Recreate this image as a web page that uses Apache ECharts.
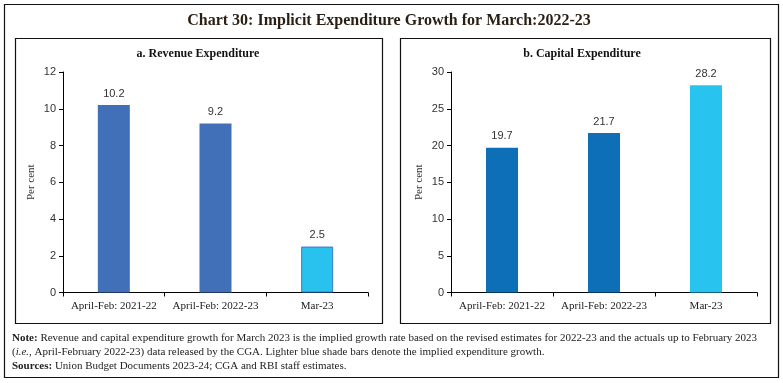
<!DOCTYPE html>
<html><head><meta charset="utf-8">
<script src="https://cdn.jsdelivr.net/npm/echarts@6/dist/echarts.min.js"></script>
<style>html,body{margin:0;padding:0;background:#fff}#c{width:783px;height:383px}</style>
</head><body><div id="c"></div>
<script>
const categories = ['April-Feb: 2021-22', 'April-Feb: 2022-23', 'Mar-23'];
const revenueValues = [10.2, 9.2, 2.5];
const capitalValues = [19.7, 21.7, 28.2];
const revenueTicks = {min: 0, max: 12, interval: 2};
const capitalTicks = {min: 0, max: 30, interval: 5};

const SERIF = '"Liberation Serif", "DejaVu Serif", serif';
const SANS = '"Liberation Sans", "DejaVu Sans", sans-serif';
const chart = echarts.init(document.getElementById('c'), null, {renderer: 'canvas'});

function makeY(idx, t) {
  return {
    type: 'value', gridIndex: idx, min: t.min, max: t.max, interval: t.interval,
    name: 'Per cent', nameLocation: 'middle', nameGap: 26, nameRotate: 90,
    nameTextStyle: {fontFamily: SERIF, fontSize: 11, color: '#333'},
    axisLine: {show: true, lineStyle: {color: '#000', width: 1}},
    axisTick: {show: true, length: 4, lineStyle: {color: '#000'}},
    axisLabel: {fontFamily: SANS, fontSize: 11, color: '#333', margin: 7},
    splitLine: {show: false}
  };
}
function makeX(idx) {
  return {
    type: 'category', gridIndex: idx, data: categories,
    axisLine: {show: true, lineStyle: {color: '#000', width: 1}},
    axisTick: {show: true, length: 4, alignWithLabel: false, interval: 0, lineStyle: {color: '#000'}},
    axisLabel: {fontFamily: SERIF, fontSize: 11, color: '#222', margin: 8, interval: 0},
    splitLine: {show: false}
  };
}
function makeData(vals, dark, light, lightBorder) {
  return vals.map((v, i) => ({
    value: v,
    itemStyle: i === vals.length - 1
      ? {color: light, borderColor: lightBorder, borderWidth: lightBorder ? 1 : 0}
      : {color: dark}
  }));
}
const labelCfg = {show: true, position: 'top', distance: 6, fontFamily: SANS, fontSize: 11, color: '#333',
  formatter: p => p.value.toFixed(1)};

chart.setOption({
  animation: false,
  backgroundColor: '#fff',
  grid: [
    {left: 63, right: 415, top: 72, bottom: 90.5},
    {left: 451, right: 26, top: 72, bottom: 90.5}
  ],
  xAxis: [makeX(0), makeX(1)],
  yAxis: [makeY(0, revenueTicks), makeY(1, capitalTicks)],
  series: [
    {type: 'bar', xAxisIndex: 0, yAxisIndex: 0, barWidth: 32, label: labelCfg,
     data: makeData(revenueValues, '#4270B8', '#29C2EF', '#3B78C8')},
    {type: 'bar', xAxisIndex: 1, yAxisIndex: 1, barWidth: 32, label: labelCfg,
     data: makeData(capitalValues, '#0D6FB7', '#29C3EF', null)}
  ],
  graphic: [
    {type: 'rect', shape: {x: 4.5, y: 4.5, width: 774, height: 373}, style: {fill: null, stroke: '#111', lineWidth: 1.2}, z: 0},
    {type: 'rect', shape: {x: 15.5, y: 38.5, width: 367, height: 285}, style: {fill: null, stroke: '#111', lineWidth: 1.2}, z: 0},
    {type: 'rect', shape: {x: 400.5, y: 38.5, width: 370, height: 285}, style: {fill: null, stroke: '#111', lineWidth: 1.2}, z: 0},
    {type: 'text', x: 389, y: 21, style: {text: 'Chart 30: Implicit Expenditure Growth for March:2022-23', fontFamily: SERIF, fontSize: 16, fontWeight: 'bold', fill: '#2a1f14', textAlign: 'center', textVerticalAlign: 'middle'}},
    {type: 'text', x: 198, y: 54, style: {text: 'a. Revenue Expenditure', fontFamily: SERIF, fontSize: 12, fontWeight: 'bold', fill: '#111', textAlign: 'center', textVerticalAlign: 'middle'}},
    {type: 'text', x: 582, y: 54, style: {text: 'b. Capital Expenditure', fontFamily: SERIF, fontSize: 12, fontWeight: 'bold', fill: '#111', textAlign: 'center', textVerticalAlign: 'middle'}},
    {type: 'text', x: 12, y: 338, style: {
      text: '{b|Note:} Revenue and capital expenditure growth for March 2023 is the implied growth rate based on the revised estimates for 2022-23 and the actuals up to February 2023',
      rich: {b: {fontWeight: 'bold', fontFamily: SERIF, fontSize: 11, fill: '#222'}},
      fontFamily: SERIF, fontSize: 11, fill: '#222', textVerticalAlign: 'middle'}},
    {type: 'text', x: 12, y: 352, style: {
      text: '({i|i.e.}, April-February 2022-23) data released by the CGA. Lighter blue shade bars denote the implied expenditure growth.',
      rich: {i: {fontStyle: 'italic', fontFamily: SERIF, fontSize: 11, fill: '#222'}},
      fontFamily: SERIF, fontSize: 11, fill: '#222', textVerticalAlign: 'middle'}},
    {type: 'text', x: 12, y: 366, style: {
      text: '{b|Sources:} Union Budget Documents 2023-24; CGA and RBI staff estimates.',
      rich: {b: {fontWeight: 'bold', fontFamily: SERIF, fontSize: 11, fill: '#222'}},
      fontFamily: SERIF, fontSize: 11, fill: '#222', textVerticalAlign: 'middle'}}
  ]
});
</script></body></html>
